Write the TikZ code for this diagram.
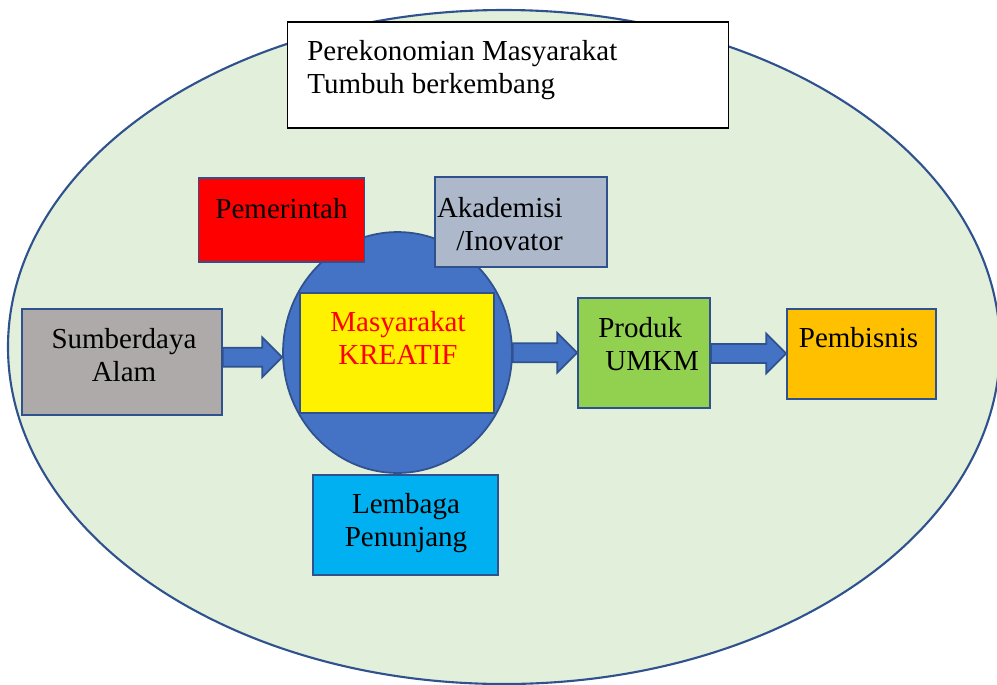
\documentclass[tikz,border=0pt]{standalone}
\usepackage{fontspec}
\setmainfont{Liberation Serif}
\usepackage{tikz}
\usetikzlibrary{shapes.geometric,calc}
\definecolor{bgGreen}{HTML}{E2EFDA}
\definecolor{edgeBlue}{HTML}{2F528F}
\definecolor{fillBlue}{HTML}{4472C4}
\definecolor{akaGrey}{HTML}{ADB9CA}
\definecolor{sdaGrey}{HTML}{AEAAAA}
\definecolor{umkmGreen}{HTML}{92D050}
\definecolor{bisOrange}{HTML}{FFC000}
\definecolor{lemCyan}{HTML}{00B0F0}

% block arrow between two anchors
\newcommand{\blockarrow}[2]{%
  \draw[arrowshape] let \p1=(#1), \p2=(#2), \p3=($(#1)!0.5!(#2)$) in
    (\x1,\y3+5.4pt) -- (\x2-11.3pt,\y3+5.4pt) -- (\x2-11.3pt,\y3+11.3pt) -- (\x2,\y3)
    -- (\x2-11.3pt,\y3-11.3pt) -- (\x2-11.3pt,\y3-5.4pt) -- (\x1,\y3-5.4pt) -- cycle;}

\begin{document}
\begin{tikzpicture}[x=0.02cm,y=-0.02cm,
    box/.style={draw=edgeBlue,line width=1pt,rectangle,inner sep=0pt},
    txt/.style={inner sep=0pt,font=\fontsize{16.5}{18.9}\selectfont},
    arrowshape/.style={fill=fillBlue,draw=edgeBlue,line width=1pt,line join=miter}]
		\useasboundingbox (0,0) rectangle (997,684);
		\clip (0,0) rectangle (997,684);
		%\draw[help lines,step=50] (0,0) grid (997,684);
		% ellipse
		\draw[fill=bgGreen,draw=edgeBlue,line width=1.2pt] (504,347) ellipse [x radius=496, y radius=337];
		% boxes
		\node[box,draw=black,line width=0.6pt,fill=white,minimum width=8.84cm,minimum height=2.12cm] (judul) at (508,75) {};
		\node[box,fill=fillBlue,ellipse,minimum width=4.58cm,minimum height=4.82cm] (circ) at (397.5,352.5) {};
		\node[box,fill=red,minimum width=3.32cm,minimum height=1.68cm] (pem) at (281.5,220) {};
		\node[box,fill=akaGrey,minimum width=3.44cm,minimum height=1.8cm] (aka) at (521,222) {};
		\node[box,fill=yellow,minimum width=3.88cm,minimum height=2.4cm] (kreatif) at (397,353) {};
		\node[box,fill=sdaGrey,minimum width=4cm,minimum height=2.12cm] (sda) at (122,362) {};
		\node[box,fill=umkmGreen,minimum width=2.64cm,minimum height=2.2cm] (umkm) at (644,353) {};
		\node[box,fill=bisOrange,minimum width=2.98cm,minimum height=1.8cm] (bis) at (861.5,354) {};
		\node[box,fill=lemCyan,minimum width=3.7cm,minimum height=2cm] (lem) at (405.5,525) {};
		% texts
		\node[txt,anchor=north west,align=left] (judultxt) at (307,40) {Perekonomian Masyarakat\\Tumbuh berkembang};
		\node[txt,anchor=north] (pemtxt) at (281.5,198) {Pemerintah};
		\node[txt,anchor=north east,align=right] (akatxt) at (563,197) {Akademisi\\/Inovator};
		\node[txt,anchor=north,align=center,text=red] (kreatiftxt) at (398,311) {Masyarakat\\KREATIF};
		\node[txt,anchor=north,align=center] (sdatxt) at (124,328) {Sumberdaya\\Alam};
		\node[txt,anchor=north west,align=left] (umkmtxt) at (598,317) {Produk\\\hspace*{4pt}UMKM};
		\node[txt,anchor=north] (bistxt) at (858.5,327) {Pembisnis};
		\node[txt,anchor=north,align=center] (lemtxt) at (406,493) {Lembaga\\Penunjang};
		% arrows
		\blockarrow{sda.east}{circ.west}
		\blockarrow{circ.east}{umkm.west}
		\blockarrow{umkm.east}{bis.west}
\end{tikzpicture}
\end{document}
